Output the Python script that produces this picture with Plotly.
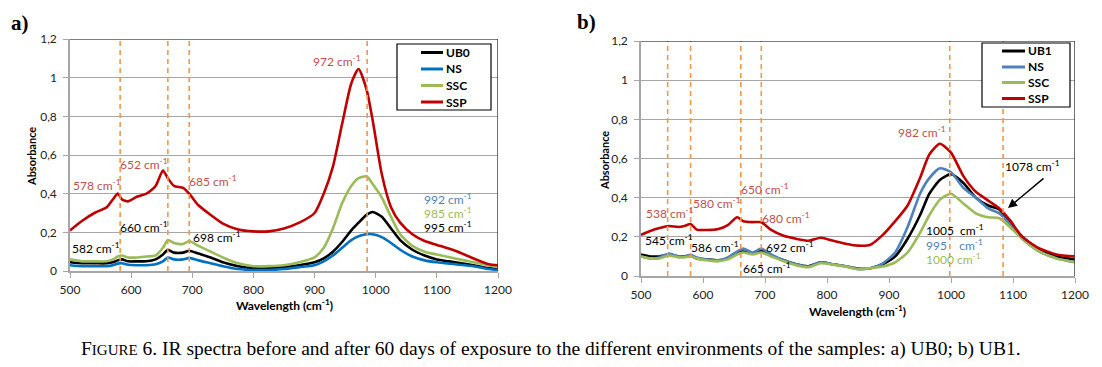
import plotly.graph_objects as go

# ---------------- data: panel a (UB0) ----------------
wl_a = [500, 520, 540, 560, 570, 578, 585, 595, 610, 625, 640, 652, 660, 670, 685, 695,
        710, 730, 750, 775, 800, 825, 850, 875, 900, 915, 930, 945, 960, 972, 985, 995,
        1010, 1025, 1040, 1060, 1080, 1100, 1130, 1160, 1185, 1200]
ub0_a = [0.045, 0.04, 0.04, 0.04, 0.045, 0.055, 0.06, 0.05, 0.05, 0.05, 0.06, 0.085, 0.11, 0.095, 0.095, 0.105,
         0.09, 0.07, 0.045, 0.025, 0.015, 0.015, 0.02, 0.03, 0.045, 0.065, 0.10, 0.15, 0.21, 0.25, 0.29, 0.305,
         0.28, 0.22, 0.16, 0.11, 0.08, 0.06, 0.045, 0.03, 0.015, 0.01]
ns_a = [0.03, 0.025, 0.025, 0.025, 0.03, 0.038, 0.04, 0.032, 0.03, 0.03, 0.035, 0.05, 0.07, 0.06, 0.06, 0.068,
        0.055, 0.04, 0.025, 0.01, 0.005, 0.005, 0.01, 0.02, 0.03, 0.05, 0.08, 0.12, 0.16, 0.18, 0.19, 0.19,
        0.175, 0.145, 0.11, 0.075, 0.055, 0.045, 0.035, 0.025, 0.01, 0.005]
ssc_a = [0.06, 0.05, 0.05, 0.05, 0.06, 0.075, 0.08, 0.07, 0.07, 0.075, 0.08, 0.12, 0.16, 0.145, 0.14, 0.155,
         0.13, 0.10, 0.07, 0.04, 0.025, 0.025, 0.03, 0.045, 0.07, 0.12, 0.22, 0.35, 0.44, 0.48, 0.49, 0.45,
         0.38, 0.28, 0.19, 0.13, 0.10, 0.085, 0.065, 0.045, 0.03, 0.02]
ssp_a = [0.21, 0.26, 0.30, 0.33, 0.37, 0.40, 0.37, 0.36, 0.385, 0.40, 0.44, 0.52, 0.48, 0.44, 0.43, 0.40,
         0.34, 0.29, 0.245, 0.215, 0.205, 0.205, 0.22, 0.25, 0.30, 0.40, 0.54, 0.76, 0.97, 1.045, 0.94, 0.78,
         0.50, 0.33, 0.25, 0.19, 0.155, 0.135, 0.105, 0.065, 0.035, 0.03]

# ---------------- data: panel b (UB1) ----------------
wl_b = [500, 515, 530, 545, 560, 570, 580, 590, 605, 625, 640, 655, 665, 680, 694, 710, 730, 750,
        770, 790, 810, 830, 850, 870, 890, 910, 930, 950, 965, 982, 1000, 1020, 1040, 1060, 1078,
        1095, 1115, 1140, 1170, 1200]
ub1_b = [0.11, 0.10, 0.10, 0.11, 0.10, 0.10, 0.105, 0.09, 0.085, 0.08, 0.09, 0.12, 0.125, 0.115, 0.13, 0.105, 0.08, 0.06,
         0.05, 0.07, 0.06, 0.05, 0.038, 0.04, 0.06, 0.10, 0.19, 0.31, 0.42, 0.49, 0.52, 0.475, 0.40, 0.36, 0.34,
         0.27, 0.20, 0.14, 0.10, 0.085]
ns_b = [0.10, 0.09, 0.095, 0.115, 0.10, 0.10, 0.108, 0.095, 0.085, 0.08, 0.095, 0.125, 0.14, 0.12, 0.14, 0.11, 0.08, 0.06,
        0.048, 0.07, 0.06, 0.05, 0.035, 0.04, 0.065, 0.12, 0.25, 0.42, 0.50, 0.55, 0.53, 0.45, 0.40, 0.345, 0.32,
        0.265, 0.19, 0.13, 0.09, 0.07]
ssc_b = [0.10, 0.09, 0.09, 0.105, 0.095, 0.095, 0.10, 0.09, 0.08, 0.075, 0.085, 0.11, 0.12, 0.11, 0.12, 0.10, 0.075, 0.055,
         0.045, 0.065, 0.058, 0.048, 0.035, 0.04, 0.048, 0.07, 0.12, 0.22, 0.31, 0.39, 0.42, 0.37, 0.32, 0.30, 0.295,
         0.25, 0.19, 0.13, 0.09, 0.07]
ssp_b = [0.21, 0.23, 0.245, 0.255, 0.25, 0.255, 0.265, 0.237, 0.235, 0.24, 0.26, 0.30, 0.28, 0.275, 0.275, 0.235, 0.205, 0.19,
         0.18, 0.195, 0.18, 0.165, 0.155, 0.16, 0.21, 0.28, 0.36, 0.50, 0.62, 0.675, 0.63, 0.51, 0.43, 0.385, 0.345,
         0.285, 0.20, 0.145, 0.11, 0.10]

series_a = ["UB0", "NS", "SSC", "SSP"]
series_b = ["UB1", "NS", "SSC", "SSP"]

# marker wavelengths (dashed lines)
vlines_a = [582, 660, 695, 986]
vlines_b = [543, 580, 661, 694, 998, 1084]

tick_vals_y = [0, 0.2, 0.4, 0.6, 0.8, 1.0, 1.2]
tick_text_y = ["0", "0,2", "0,4", "0,6", "0,8", "1", "1,2"]
tick_vals_x = [500, 600, 700, 800, 900, 1000, 1100, 1200]

C_BLACK = "#000000"
C_BLUE_A = "#0070C0"
C_BLUE_B = "#4F81BD"
C_GREEN = "#9BBB59"
C_RED = "#C00000"
T_RED = "#C0504D"
T_BLUE = "#4F81BD"
T_GREEN = "#9BBB59"
ORANGE = "#F79646"
GRID = "#A6A6A6"
FONT = "Lato, Liberation Sans, sans-serif"

# page has an 8px body margin; figure fills the rest of the 1102x367 window
OFF = 8
W, H = 1102 - OFF, 367 - OFF


def px(x):
    return (x - OFF) / W


def py(y):
    return 1 - (y - OFF) / H


fig = go.Figure()


def add(x, y, name, color, xa, ya):
    fig.add_trace(go.Scatter(x=x, y=y, name=name, mode="lines", showlegend=False,
                             line=dict(color=color, width=2.6, shape="spline", smoothing=0.6),
                             xaxis=xa, yaxis=ya, hoverinfo="skip"))


colors_a = [C_BLACK, C_BLUE_A, C_GREEN, C_RED]
colors_b = [C_BLACK, C_BLUE_B, C_GREEN, C_RED]
for name, ys, c in zip(series_a, [ub0_a, ns_a, ssc_a, ssp_a], colors_a):
    add(wl_a, ys, name, c, "x", "y")
for name, ys, c in zip(series_b, [ub1_b, ns_b, ssc_b, ssp_b], colors_b):
    add(wl_b, ys, name, c, "x2", "y2")

shapes = []
for v in vlines_a:
    shapes.append(dict(type="line", xref="x", yref="y", x0=v, x1=v, y0=0, y1=1.2,
                       line=dict(color=ORANGE, width=1.6, dash="5px,4px"), layer="above"))
for v in vlines_b:
    shapes.append(dict(type="line", xref="x2", yref="y2", x0=v, x1=v, y0=0, y1=1.2,
                       line=dict(color=ORANGE, width=1.6, dash="5px,4px"), layer="above"))
# plot-area top/right border
for xr, yr in (("x", "y"), ("x2", "y2")):
    shapes.append(dict(type="line", xref=xr, yref=yr, x0=500, x1=1200, y0=1.2, y1=1.2,
                       line=dict(color="#000000", width=1.2), layer="above"))
    shapes.append(dict(type="line", xref=xr, yref=yr, x0=1200, x1=1200, y0=0, y1=1.2,
                       line=dict(color="#404040", width=1.5), layer="above"))


def ann(x, y, text, color, xr="x", yr="y", xanchor="center", size=12):
    return dict(x=x, y=y, xref=xr, yref=yr, text=text, showarrow=False, xanchor=xanchor,
                yanchor="middle", font=dict(family=FONT, size=size, color=color))


def pann(x, y, text, size, family=FONT, angle=0, xanchor="center"):
    return dict(x=px(x), y=py(y), xref="paper", yref="paper", text=text, showarrow=False,
                xanchor=xanchor, yanchor="middle", textangle=angle,
                font=dict(family=family, size=size, color="#000"))


cm = " cm<sup>-1</sup>"
annotations = [
    # panel a
    ann(936, 1.086, "972" + cm, T_RED),
    ann(544, 0.445, "578" + cm, T_RED),
    ann(621, 0.553, "652" + cm, T_RED),
    ann(734, 0.467, "685" + cm, T_RED),
    ann(621, 0.226, "660" + cm, C_BLACK),
    ann(542, 0.120, "582" + cm, C_BLACK),
    ann(740, 0.174, "698" + cm, C_BLACK),
    ann(1118, 0.371, "992" + cm, T_BLUE),
    ann(1118, 0.302, "985" + cm, T_GREEN),
    ann(1118, 0.226, "995" + cm, C_BLACK),
    # panel b
    ann(954, 0.734, "982" + cm, T_RED, "x2", "y2"),
    ann(547, 0.323, "538" + cm, T_RED, "x2", "y2"),
    ann(622, 0.374, "580" + cm, T_RED, "x2", "y2"),
    ann(700, 0.444, "650" + cm, T_RED, "x2", "y2"),
    ann(734, 0.298, "680" + cm, T_RED, "x2", "y2"),
    ann(545, 0.184, "545" + cm, C_BLACK, "x2", "y2"),
    ann(620, 0.150, "586" + cm, C_BLACK, "x2", "y2"),
    ann(740, 0.150, "692" + cm, C_BLACK, "x2", "y2"),
    ann(703, 0.042, "665" + cm, C_BLACK, "x2", "y2"),
    ann(1132, 0.562, "1078" + cm, C_BLACK, "x2", "y2"),
    ann(956, 0.235, "1005 &nbsp;cm<sup>-1</sup>", C_BLACK, "x2", "y2", "left"),
    ann(956, 0.157, "995 &nbsp;&nbsp; cm<sup>-1</sup>", T_BLUE, "x2", "y2", "left"),
    ann(956, 0.085, "1000 cm<sup>-1</sup>", T_GREEN, "x2", "y2", "left"),
    dict(x=1092, y=0.347, xref="x2", yref="y2", text="", showarrow=True, ax=37, ay=-31,
         arrowhead=2, arrowsize=1.2, arrowwidth=1.5, arrowcolor="#000000"),
    # axis titles
    pann(32, 157, "<b>Absorbance</b>", 11, angle=-90),
    pann(604, 160, "<b>Absorbance</b>", 11, angle=-90),
    pann(284, 305, "<b>Wavelength (cm<sup>-1</sup>)</b>", 12),
    pann(857, 311, "<b>Wavelength (cm<sup>-1</sup>)</b>", 12),
    # panel labels
    pann(20, 23, "<b>a)</b>", 21, "Liberation Serif, serif"),
    pann(586, 22, "<b>b)</b>", 21, "Liberation Serif, serif"),
    # caption
    pann(551, 349,
         "F<span style='font-size:15px'>IGURE</span> 6. IR spectra before and after 60 days of exposure "
         "to the different environments of the samples: a) UB0; b) UB1.",
         19.5, "Liberation Serif, serif"),
]

# legends (boxed key with coloured line samples)
legend_boxes = [
    dict(box=(397, 44, 491, 110), line_x=(421, 443), rows=[52.5, 69, 85.5, 102],
         names=series_a, colors=colors_a),
    dict(box=(982, 43, 1070, 107), line_x=(1002, 1025), rows=[51, 67, 82.5, 98.5],
         names=series_b, colors=colors_b),
]
for lg in legend_boxes:
    x0, y0, x1, y1 = lg["box"]
    shapes.append(dict(type="rect", xref="paper", yref="paper", x0=px(x0), x1=px(x1), y0=py(y1), y1=py(y0),
                       fillcolor="white", line=dict(color="#000", width=1.2), layer="above"))
    for yy, nm, c in zip(lg["rows"], lg["names"], lg["colors"]):
        shapes.append(dict(type="line", xref="paper", yref="paper", x0=px(lg["line_x"][0]),
                           x1=px(lg["line_x"][1]), y0=py(yy), y1=py(yy),
                           line=dict(color=c, width=3), layer="above"))
        annotations.append(pann(lg["line_x"][1] + 0.5, yy, "<b>%s</b>" % nm, 12, xanchor="left"))


def xaxis(domain, anchor):
    return dict(domain=domain, anchor=anchor, range=[500, 1200], tickvals=tick_vals_x, automargin=False,
                showgrid=False, zeroline=False, showline=True, linecolor=GRID, linewidth=1.5,
                ticks="outside", ticklen=5, tickcolor=GRID, tickwidth=1.2, ticklabelstandoff=2,
                tickfont=dict(family=FONT, size=12, color="#222"), fixedrange=True)


def yaxis(domain, anchor):
    return dict(domain=domain, anchor=anchor, range=[0, 1.2], tickvals=tick_vals_y, ticktext=tick_text_y,
                automargin=False, ticklabelstandoff=4,
                showgrid=True, gridcolor=GRID, gridwidth=1.3, zeroline=False, showline=True,
                linecolor=GRID, linewidth=1.5, ticks="outside", ticklen=5, tickcolor=GRID, tickwidth=1.2,
                tickfont=dict(family=FONT, size=12, color="#222"), fixedrange=True)


fig.update_layout(
    width=W, height=H, margin=dict(l=0, r=0, t=0, b=0, autoexpand=False),
    paper_bgcolor="white", plot_bgcolor="white",
    xaxis=xaxis([px(70), px(498)], "y"),
    yaxis=yaxis([py(271), py(39)], "x"),
    xaxis2=xaxis([px(641), px(1075)], "y2"),
    yaxis2=yaxis([py(276), py(41)], "x2"),
    shapes=shapes, annotations=annotations, showlegend=False,
)

fig.write_html("out.html")
